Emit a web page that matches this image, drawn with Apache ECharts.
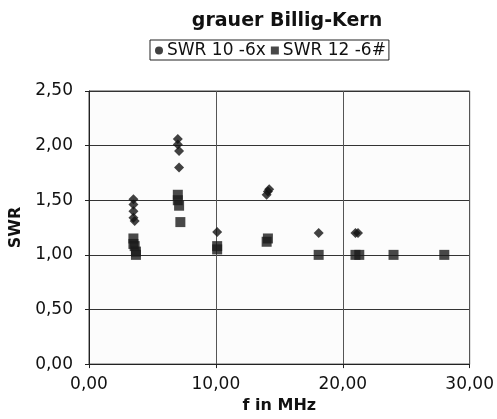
<!DOCTYPE html>
<html><head><meta charset="utf-8">
<script src="https://cdn.jsdelivr.net/npm/echarts@6/dist/echarts.min.js"></script>
<style>html,body{margin:0;padding:0;background:#fff}#c{width:497px;height:419px}</style>
</head><body><div id="c"></div>
<script>
const titleText = 'grauer Billig-Kern';
const seriesNames = ['SWR 10 -6x', 'SWR 12 -6#'];
const freq1 = [3.5, 3.5, 3.5, 3.5, 3.6, 7.0, 7.0, 7.1, 7.1, 10.1, 14.0, 14.1, 14.2, 18.1, 21.0, 21.2];
const swr1  = [1.51, 1.46, 1.40, 1.34, 1.31, 2.06, 2.01, 1.95, 1.80, 1.21, 1.55, 1.58, 1.60, 1.20, 1.20, 1.20];
const freq2 = [3.5, 3.5, 3.6, 3.7, 3.7, 7.0, 7.0, 7.1, 7.2, 10.1, 10.1, 14.0, 14.1, 18.1, 21.0, 21.3, 24.0, 28.0];
const swr2  = [1.15, 1.10, 1.08, 1.03, 1.00, 1.55, 1.50, 1.45, 1.30, 1.08, 1.05, 1.12, 1.15, 1.00, 1.00, 1.00, 1.00, 1.00];
const xTitle = 'f in MHz';
const yTitle = 'SWR';
const fmt = v => v.toFixed(2).replace('.', ',');
const chart = echarts.init(document.getElementById('c'));
const font = 'DejaVu Sans, sans-serif';
chart.setOption({
  animation: false,
  backgroundColor: '#fff',
  title: { text: titleText, top: 7, left: 282, textAlign: 'center',
    textStyle: { fontFamily: font, fontSize: 19, fontWeight: 'bold', color: '#111' } },
  legend: { top: 40, left: 150, itemGap: 5, itemWidth: 8, itemHeight: 8,
    borderColor: '#222', borderWidth: 1, padding: [2, 3, 1, 5], borderRadius: 0,
    textStyle: { fontFamily: font, fontSize: 17, color: '#111', padding: [0,0,0,-1] },
    data: [{ name: seriesNames[0], icon: 'circle' }, { name: seriesNames[1], icon: 'rect' }] },
  grid: { left: 89, right: 24, top: 91, bottom: 50, show: true, backgroundColor: '#fcfcfc', borderColor: '#444', borderWidth: 1 },
  xAxis: { type: 'value', min: 0, max: 30, interval: 10, name: xTitle, nameLocation: 'middle', nameGap: 33,
    nameTextStyle: { fontFamily: font, fontSize: 16, fontWeight: 'bold', color: '#111' },
    axisLine: { show: true, onZero: false, lineStyle: { color: '#222' } },
    axisTick: { show: true, inside: false, length: 4, lineStyle: { color: '#222' } },
    axisLabel: { formatter: fmt, fontFamily: font, fontSize: 17, color: '#111', margin: 12 },
    splitLine: { show: true, lineStyle: { color: '#555', width: 1 } } },
  yAxis: { type: 'value', min: 0, max: 2.5, interval: 0.5, name: yTitle, nameLocation: 'middle', nameGap: 61, nameRotate: 90,
    nameTextStyle: { fontFamily: font, fontSize: 16, fontWeight: 'bold', color: '#111' },
    axisLine: { show: true, lineStyle: { color: '#222' } },
    axisTick: { show: true, length: 4, lineStyle: { color: '#222' } },
    axisLabel: { formatter: fmt, fontFamily: font, fontSize: 17, color: '#111', margin: 16 },
    splitLine: { show: true, lineStyle: { color: '#333', width: 1.2 } } },
  series: [
    { name: seriesNames[0], type: 'scatter', symbol: 'diamond', symbolSize: 10, z: 3,
      itemStyle: { color: '#111' }, data: freq1.map((f, i) => [f, swr1[i]]) },
    { name: seriesNames[1], type: 'scatter', symbol: 'rect', symbolSize: 10, z: 2,
      itemStyle: { color: '#1a1a1a' }, data: freq2.map((f, i) => [f, swr2[i]]) }
  ]
});
</script></body></html>
